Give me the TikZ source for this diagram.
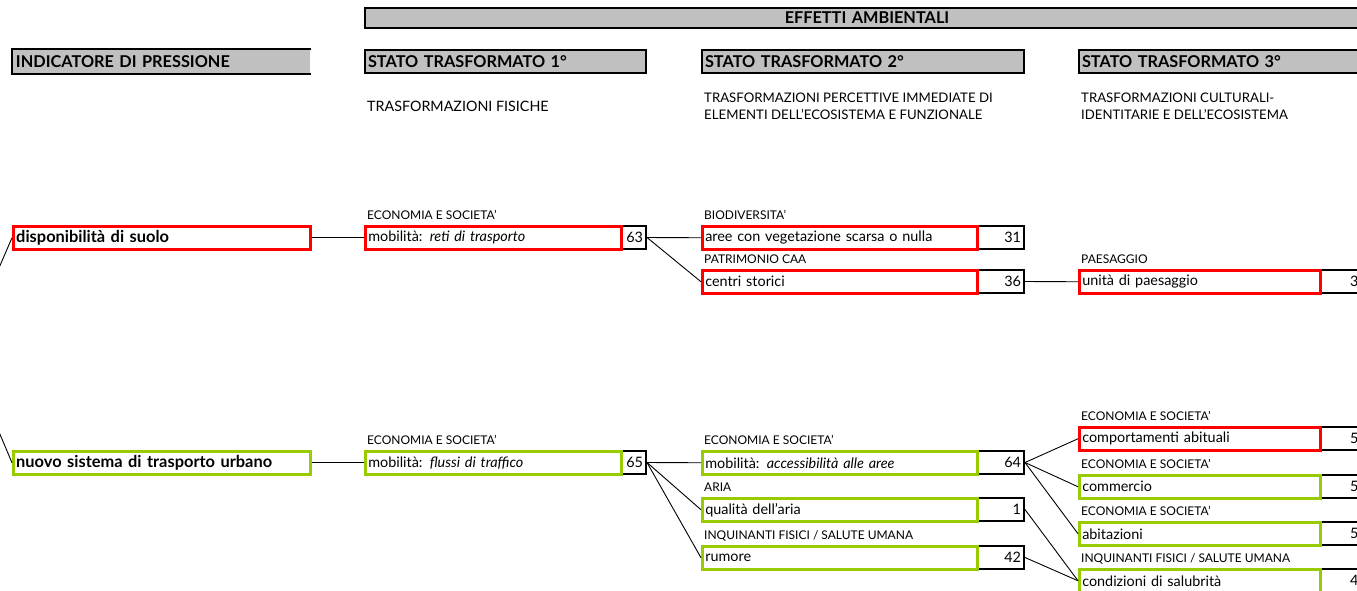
\documentclass[tikz,border=0pt]{standalone}
\usepackage{fontspec}
\setmainfont{Lato}
\usetikzlibrary{calc}
\definecolor{rd}{HTML}{FF0000}
\definecolor{gr}{HTML}{99CC00}
\definecolor{hg}{HTML}{C0C0C0}
\tikzset{
  hdr/.style={draw, fill=hg, line width=2pt, anchor=north west, minimum height=23pt, inner xsep=3pt, inner ysep=0pt, align=left, font=\bfseries\fontsize{16.3}{18}\selectfont},
  cbox/.style={draw=#1, line width=2.5pt, anchor=north west, minimum height=23pt, inner xsep=3pt, inner ysep=0pt, align=left, font=\fontsize{14.4}{16}\selectfont},
  nbox/.style={draw=black, line width=2pt, anchor=north west, minimum height=23pt, inner xsep=3pt, inner ysep=0pt, align=right, font=\fontsize{14.4}{16}\selectfont},
  pbox/.style={cbox=#1, font=\bfseries\fontsize{16.4}{18}\selectfont},
  lab/.style={anchor=base west, inner sep=0pt, font=\fontsize{12}{14}\selectfont},
  sub/.style={anchor=north west, inner sep=0pt, align=left, font=\fontsize{13.2}{17}\selectfont},
  link/.style={line width=0.9pt},
}
\begin{document}
\begin{tikzpicture}[x=1pt,y=-1pt]
\useasboundingbox (0,0) rectangle (1357,590);
\clip (0,0) rectangle (1357,590);
% headers
\node[hdr, text width=998pt, align=center, minimum height=20pt] (eff) at (364,7) {EFFETTI AMBIENTALI};
\node[hdr, draw=none, text width=291pt] (h0) at (12,49) {INDICATORE DI PRESSIONE};
\draw[line width=2pt] (h0.north east) -- (h0.north west) -- (h0.south west) -- (h0.south east);
\node[hdr, text width=275pt] (h1) at (364,49) {STATO TRASFORMATO 1°};
\node[hdr, text width=316pt] (h2) at (701,49) {STATO TRASFORMATO 2°};
\node[hdr, text width=296pt] (h3) at (1078,49) {STATO TRASFORMATO 3°};
\node[sub, anchor=base west, font=\fontsize{14.3}{17}\selectfont] (s1) at (367,111) {TRASFORMAZIONI FISICHE};
\node[sub] (s2) at (704,92.5) {TRASFORMAZIONI PERCETTIVE IMMEDIATE DI\\ELEMENTI DELL'ECOSISTEMA E FUNZIONALE};
\node[sub] (s3) at (1081,92.5) {TRASFORMAZIONI CULTURALI-\\IDENTITARIE E DELL'ECOSISTEMA};

% ---- row 1
\node[pbox=rd, text width=291pt] (p1) at (12,225) {disponibilità di suolo};
\node[lab] (l11) at (367,219) {ECONOMIA E SOCIETA'};
\node[nbox, text width=19pt] (n11) at (620,225) {63};
\node[cbox=rd, text width=250pt] (b11) at (364,225) {mobilità: \textit{reti di trasporto}};
\node[lab] (l21) at (704,219) {BIODIVERSITA'};
\node[nbox, text width=41pt] (n21) at (976,225) {31};
\node[cbox=rd, text width=269pt] (b21) at (701,225) {aree con vegetazione scarsa o nulla};
\node[lab] (l22) at (704,263) {PATRIMONIO CAA};
\node[nbox, text width=41pt] (n22) at (976,269) {36};
\node[cbox=rd, text width=269pt] (b22) at (701,269) {centri storici};
\node[lab] (l31) at (1081,263) {PAESAGGIO};
\node[nbox, text width=55pt, align=left] (n31) at (1319,269) {\hspace*{27pt}3};
\node[cbox=rd, text width=235pt] (b31) at (1078,269) {unità di paesaggio};

% ---- row 2
\node[pbox=gr, text width=291pt] (p2) at (12,450) {nuovo sistema di trasporto urbano};
\node[lab] (l12) at (367,444) {ECONOMIA E SOCIETA'};
\node[nbox, text width=19pt] (n12) at (620,450) {65};
\node[cbox=gr, text width=250pt] (b12) at (364,450) {mobilità: \textit{flussi di traffico}};
\node[lab] (l23) at (704,444) {ECONOMIA E SOCIETA'};
\node[nbox, text width=41pt] (n23) at (976,450) {64};
\node[cbox=gr, text width=269pt] (b23) at (701,450) {mobilità: \textit{accessibilità alle aree}};
\node[lab] (l24) at (704,491) {ARIA};
\node[nbox, text width=41pt] (n24) at (976,497) {1};
\node[cbox=gr, text width=269pt] (b24) at (701,497) {qualità dell'aria};
\node[lab] (l25) at (704,539) {INQUINANTI FISICI / SALUTE UMANA};
\node[nbox, text width=41pt] (n25) at (976,545) {42};
\node[cbox=gr, text width=269pt] (b25) at (701,545) {rumore};

\node[lab] (l32) at (1081,420) {ECONOMIA E SOCIETA'};
\node[nbox, text width=55pt, align=left] (n32) at (1319,426) {\hspace*{27pt}5};
\node[cbox=rd, text width=235pt] (b32) at (1078,426) {comportamenti abituali};
\node[lab] (l33) at (1081,468) {ECONOMIA E SOCIETA'};
\node[nbox, text width=55pt, align=left] (n33) at (1319,474) {\hspace*{27pt}5};
\node[cbox=gr, text width=235pt] (b33) at (1078,474) {commercio};
\node[lab] (l34) at (1081,515) {ECONOMIA E SOCIETA'};
\node[nbox, text width=55pt, align=left] (n34) at (1319,521) {\hspace*{27pt}5};
\node[cbox=gr, text width=235pt] (b34) at (1078,521) {abitazioni};
\node[lab] (l35) at (1081,562) {INQUINANTI FISICI / SALUTE UMANA};
\node[nbox, text width=55pt, align=left] (n35) at (1319,568) {\hspace*{27pt}4};
\node[cbox=gr, text width=235pt] (b35) at (1078,568) {condizioni di salubrità};

% ---- connectors
\coordinate (o) at (-36,349);
\draw[link] (o) -- (p1.west);
\draw[link] (o) -- (p2.west);
\draw[link] (p1.east) -- (b11.west);
\draw[link] (n11.east) -- (b21.west);
\draw[link] (n11.east) -- (b22.west);
\draw[link] (n22.east) -- (b31.west);
\draw[link] (p2.east) -- (b12.west);
\draw[link] (n12.east) -- (b23.west);
\draw[link] (n12.east) -- (b24.west);
\draw[link] (n12.east) -- (b25.west);
\draw[link] (n23.east) -- (b32.west);
\draw[link] (n23.east) -- (b33.west);
\draw[link] (n23.east) -- (b34.west);
\draw[link] (n24.east) -- (b35.west);
\draw[link] (n25.east) -- (b35.west);
\end{tikzpicture}
\end{document}
